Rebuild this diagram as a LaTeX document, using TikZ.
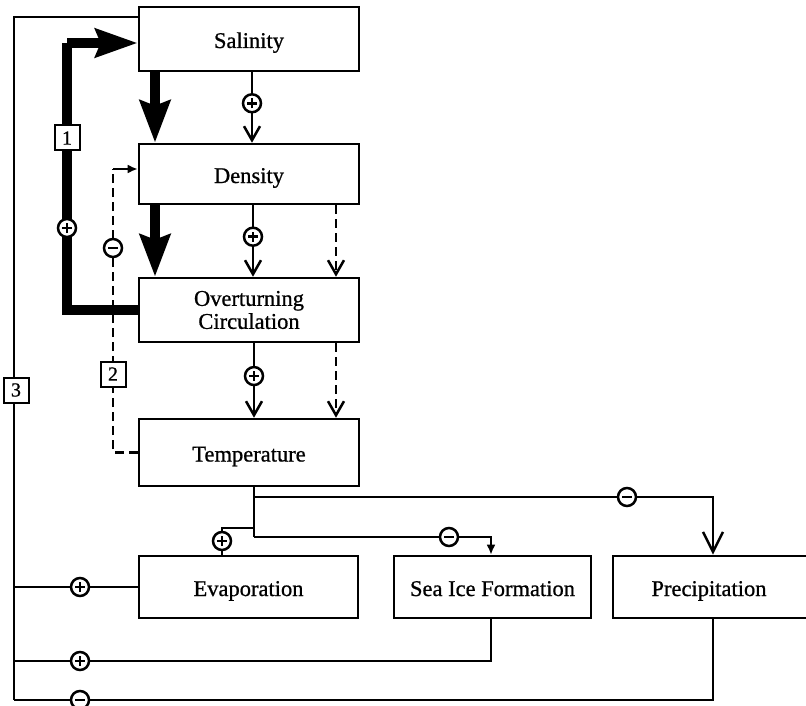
\documentclass[tikz,border=0pt]{standalone}
\usepackage{fontspec}
\setmainfont{Liberation Serif}[FakeBold=0.8]
\usetikzlibrary{arrows.meta}

\begin{document}
\begin{tikzpicture}[x=1pt,y=-1pt,
  box/.style={draw, line width=2.6pt, inner sep=0pt, align=center,
    font=\fontsize{22.5}{23}\selectfont},
  oneline/.style={text height=18pt, text depth=0pt},
  conn/.style={line width=2.5pt},
  vee/.style={conn, -{Straight Barb[length=14pt,width=16pt]}},
  bigvee/.style={conn, -{Straight Barb[length=20pt,width=20pt]}},
  smalltip/.style={conn, -{Latex[length=10pt,width=9pt]}},
  dashline/.style={conn, dash pattern=on 9pt off 5pt},
  heavy/.style={line width=9.5pt},
  heavytip/.style={heavy, -{Stealth[length=42pt,width=30pt,inset=5pt]}},
  sign/.style={circle, draw, fill=white, solid, line width=2.5pt, minimum size=18pt, inner sep=0pt},
  bar/.style={-, solid, line width=2.6pt},
  plus/.style={sign, path picture={
      \draw[bar] ([xshift=-5pt]path picture bounding box.center) -- ([xshift=5pt]path picture bounding box.center);
      \draw[bar] ([yshift=-5pt]path picture bounding box.center) -- ([yshift=5pt]path picture bounding box.center);}},
  minus/.style={sign, path picture={
      \draw[bar] ([xshift=-5pt]path picture bounding box.center) -- ([xshift=5pt]path picture bounding box.center);}},
  tag/.style={draw, fill=white, solid, line width=2pt, minimum width=25pt, minimum height=25pt,
    inner sep=0pt, font=\fontsize{20}{20}\selectfont},
]
\useasboundingbox (0,0) rectangle (806,706);

% boxes
\node[box, oneline, minimum width=220pt, minimum height=64pt] (sal) at (249,39) {Salinity};
\node[box, oneline, minimum width=220pt, minimum height=60pt] (den) at (249,174) {Density};
\node[box, minimum width=220pt, minimum height=64pt] (ovt) at (249,310) {Overturning\\Circulation};
\node[box, oneline, minimum width=220pt, minimum height=67pt] (tmp) at (249,452.5) {Temperature};
\node[box, oneline, minimum width=219pt, minimum height=62pt] (evp) at (248.5,587) {Evaporation};
\node[box, oneline, minimum width=197pt, minimum height=62pt] (ice) at (492.5,587) {Sea Ice Formation};
\node[box, oneline, minimum width=202pt, minimum height=62pt] (pre) at (714,587) {\hspace*{-10pt}Precipitation};

% vertical chain
\draw[heavytip] ([xshift=-94pt]sal.south) -- ([xshift=-94pt]den.north);
\draw[heavytip] ([xshift=-94pt]den.south) -- ([xshift=-94pt]ovt.north);
\draw[vee] ([xshift=3pt]sal.south) -- node[plus, pos=0.44] (p1) {} ([xshift=3pt]den.north);
\draw[vee] ([xshift=4pt]den.south) -- node[plus, pos=0.44] (p2) {} ([xshift=4pt]ovt.north);
\draw[vee] ([xshift=5pt]ovt.south) -- node[plus, pos=0.44] (p3) {} ([xshift=5pt]tmp.north);
\draw[vee, dash pattern=on 9pt off 5pt] ([xshift=87pt]den.south) -- ([xshift=87pt]den.south |- ovt.north);
\draw[vee, dash pattern=on 9pt off 5pt] ([xshift=87pt]ovt.south) -- ([xshift=87pt]ovt.south |- tmp.north);

% loop 1: overturning -> salinity
\coordinate (k1) at (67,43);
\draw[heavy] (ovt.west) -| (k1);
\draw[heavy, -{Stealth[length=42pt,width=28pt,inset=5pt]}] (k1) -- (k1 -| sal.west);
\node[tag] (t1) at (67,138) {1};
\node[plus] (p4) at (67,228) {};

% loop 2: temperature -> density (dashed)
\coordinate (k2) at (113,169);
\draw[dashline] (tmp.west) -| (k2);
\draw[smalltip] (k2) -- (k2 -| den.west);
\node[minus] (m1) at (113,248) {};
\node[tag] (t2) at (113,374) {2};

% temperature outputs
\coordinate (j1) at (254,497);
\coordinate (j2) at (254,528);
\coordinate (j3) at (254,537);
\coordinate (e1) at (222,528);
\draw[conn] (tmp.south -| j1) -- (j3);
\draw[bigvee] (j1) -| ([xshift=-1pt]pre.north);
\node[minus] (m2) at (627,497) {};
\draw[conn] (j2) -- (e1) -- (e1 |- evp.north);
\node[plus] (p5) at (222,541) {};
\draw[smalltip] (j3) -| ([xshift=-1.5pt]ice.north);
\node[minus] (m3) at (449,537) {};

% loop 3: surface fluxes -> salinity
\coordinate (c0) at (14,17);
\coordinate (c2) at (14,661);
\coordinate (c3) at (14,700);
\draw[conn] ([yshift=22pt]sal.west) -- (c0) -- (c3);
\draw[conn] (evp.west) -- (evp.west -| c0);
\draw[conn] ([xshift=-1.5pt]ice.south) |- (c2);
\draw[conn] ([xshift=-1pt]pre.south) |- (c3);
\node[plus] (p6) at (80,587) {};
\node[plus] (p7) at (80,661) {};
\node[minus] (m4) at (80,700) {};
\node[tag] (t3) at (16,390) {3};
\end{tikzpicture}
\end{document}
